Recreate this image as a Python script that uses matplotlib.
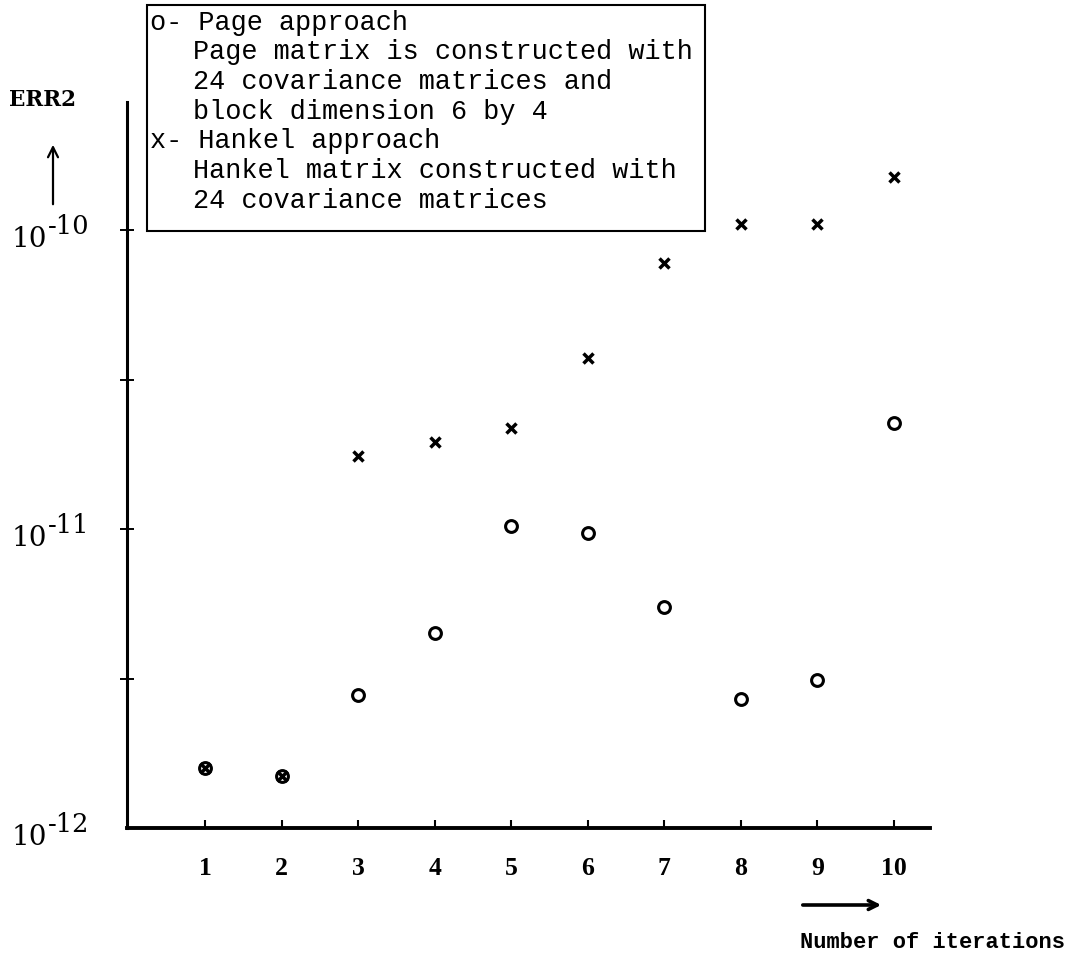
import matplotlib
matplotlib.use("Agg")
import matplotlib.pyplot as plt
from matplotlib.patches import Rectangle
from matplotlib.ticker import FixedLocator, NullLocator, NullFormatter

# Data: squared error after each iteration for the two approaches
iterations = [1, 2, 3, 4, 5, 6, 7, 8, 9, 10]
err2_page = [1.59e-12, 1.49e-12, 2.79e-12, 4.49e-12, 1.02e-11,
             9.7e-12, 5.49e-12, 2.70e-12, 3.13e-12, 2.26e-11]
err2_hankel = [1.59e-12, 1.49e-12, 1.75e-11, 1.95e-11, 2.18e-11,
               3.73e-11, 7.76e-11, 1.05e-10, 1.05e-10, 1.50e-10]
x_tick_labels = ["1", "2", "3", "4", "5", "6", "7", "8", "9", "10"]
y_decades = [-12, -11, -10]
legend_lines = [
    ("o- Page approach", False),
    ("Page matrix is constructed with", True),
    ("24 covariance matrices and", True),
    ("block dimension 6 by 4", True),
    ("x- Hankel approach", False),
    ("Hankel matrix constructed with", True),
    ("24 covariance matrices", True),
]

W, H = 1066, 964
fig = plt.figure(figsize=(W / 100, H / 100), dpi=100)
fig.patch.set_facecolor("white")


def fx(px):
    return px / W


def fy(py):
    return 1 - py / H


ax = fig.add_axes([fx(127), fy(828), (930 - 127) / W, (828 - 102) / H])
ax.set_yscale("log")
ax.set_xlim(-0.02, 10.47)
ax.set_ylim(1e-12, 10 ** (-12 + 726 / 299))

ax.plot(iterations, err2_page, ls="none", marker="o", ms=8.5, mfc="none",
        mec="black", mew=2.2, clip_on=False, zorder=3)
ax.plot(iterations, err2_hankel, ls="none", marker="x", ms=6.5,
        mec="black", mew=2.5, clip_on=False, zorder=3)

for side in ("top", "right"):
    ax.spines[side].set_visible(False)
ax.spines["left"].set_linewidth(2.2)
ax.spines["bottom"].set_linewidth(2.8)

# x axis: small inward ticks, bold numbers
ax.set_xticks(iterations)
ax.set_xticklabels(x_tick_labels, fontfamily="Liberation Serif",
                   fontweight="bold", fontsize=18.5)
ax.tick_params(axis="x", direction="in", length=6, width=1.5, pad=21)

# y axis: ticks at decades and half decades crossing the spine
ax.yaxis.set_major_locator(FixedLocator([10 ** -11.5, 1e-11, 10 ** -10.5, 1e-10]))
ax.yaxis.set_minor_locator(NullLocator())
ax.yaxis.set_major_formatter(NullFormatter())
ax.yaxis.set_minor_formatter(NullFormatter())
ax.tick_params(axis="y", direction="inout", length=10, width=1.4)

for d in y_decades:
    v = 10.0 ** d
    ax.annotate("10", xy=(47, v), xycoords=("figure pixels", "data"),
                xytext=(0, -6.5), textcoords="offset points",
                ha="right", va="center", fontfamily="DejaVu Serif",
                fontsize=20)
    ax.annotate(f"-{abs(d)}", xy=(48, v), xycoords=("figure pixels", "data"),
                xytext=(0, 2.5), textcoords="offset points",
                ha="left", va="center", fontfamily="DejaVu Serif",
                fontsize=18.5)

# legend box
box = Rectangle((fx(147), fy(231)), (705 - 147) / W, (231 - 5) / H,
                transform=fig.transFigure, facecolor="white",
                edgecolor="black", linewidth=1.5, zorder=5)
fig.add_artist(box)
for i, (line, indented) in enumerate(legend_lines):
    x_px = 193 if indented else 150
    y_px = 22 + 29.7 * i + 7.5
    fig.text(fx(x_px), fy(y_px), line, ha="left", va="baseline",
             fontfamily="Liberation Mono", fontsize=19.4, zorder=6)

# axis titles with direction arrows
fig.text(fx(42), fy(100), "ERR2", ha="center", va="center",
         fontfamily="DejaVu Serif", fontweight="bold", fontsize=15.5)
fig.text(fx(800), fy(943), "Number of iterations", ha="left", va="center",
         fontfamily="Liberation Mono", fontweight="bold", fontsize=15.8)

fig.add_artist(plt.Annotation("", xy=(fx(53), fy(142)), xytext=(fx(53), fy(207)),
                              xycoords="figure fraction",
                              arrowprops=dict(arrowstyle="->", lw=1.6,
                                              color="black",
                                              mutation_scale=18)))
fig.add_artist(plt.Annotation("", xy=(fx(884), fy(905)), xytext=(fx(800), fy(905)),
                              xycoords="figure fraction",
                              arrowprops=dict(arrowstyle="->", lw=2.6,
                                              color="black",
                                              mutation_scale=16)))

fig.savefig("out.png", dpi=100, facecolor="white")
